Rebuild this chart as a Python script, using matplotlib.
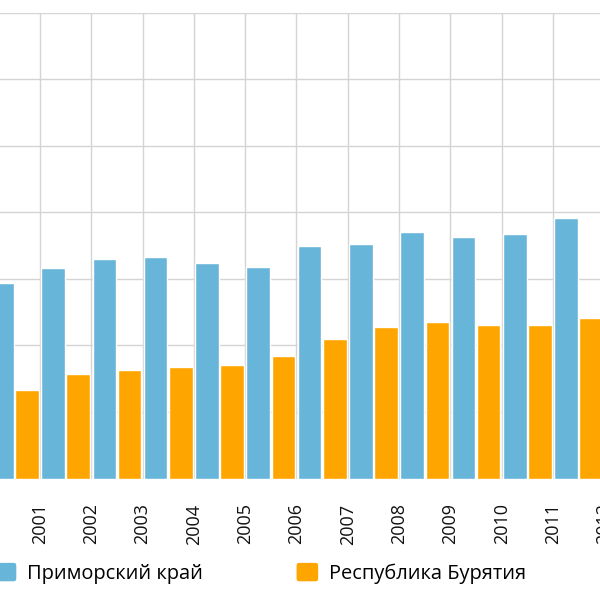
import numpy as np
import matplotlib
matplotlib.use("Agg")
import matplotlib.pyplot as plt
from matplotlib.patches import FancyBboxPatch
from matplotlib.legend_handler import HandlerPatch

# данные (читались с картинки)
years = ['2000', '2001', '2002', '2003', '2004', '2005', '2006',
         '2007', '2008', '2009', '2010', '2011', '2012']
primorsky = [29.3, 31.6, 33.0, 33.2, 32.3, 31.8, 34.9, 35.2, 37.0, 36.3, 36.8, 39.2]
buryatia = [13.3, 15.7, 16.3, 16.8, 17.1, 18.4, 20.9, 22.7, 23.5, 23.0, 23.0, 24.1]
series_names = ['Приморский край', 'Республика Бурятия']

plt.rcParams['font.family'] = ['Open Sans', 'DejaVu Sans']


def rounded_square(legend, orig_handle, xdescent, ydescent, width, height, fontsize):
    """квадратик легенды со скруглёнными углами"""
    return FancyBboxPatch((-xdescent, -ydescent), width, height,
                          boxstyle='round,pad=0,rounding_size=2.5')


fig = plt.figure(figsize=(6, 6), dpi=100)
# оси шире картинки: слева и справа график обрезан
ax = fig.add_axes([-11.3 / 600, 121.5 / 600, 615.6 / 600, 466 / 600])

idx = np.arange(len(primorsky))
w = 0.46
b1 = ax.bar(idx + 0.255, primorsky, w, color='#68b5da', edgecolor='white',
            linewidth=1, zorder=3)
b2 = ax.bar(idx + 0.745, buryatia, w, color='#ffa500', edgecolor='white',
            linewidth=1, zorder=3)

ax.set_xlim(0, 12)
ax.set_ylim(0, 70)
ax.set_xticks(np.arange(len(years)))
ax.set_xticklabels(years, rotation=90, fontsize=13, color='#111111')
ax.set_yticks(np.arange(0, 71, 10))
ax.tick_params(axis='x', length=0, pad=18)
ax.tick_params(axis='y', length=0, labelleft=False)
ax.grid(True, color='#d4d4d4', linewidth=1, zorder=0)
for s in ax.spines.values():
    s.set_visible(False)

h1 = b1.patches[0]
h2 = b2.patches[0]
fig.legend([h1, h2], series_names, loc='center left', ncol=2, frameon=False,
           bbox_to_anchor=(-6 / 600, 27 / 600), fontsize=14.4,
           handlelength=1.15, handleheight=1.15, handletextpad=0.5,
           columnspacing=4.65, borderpad=0, borderaxespad=0,
           handler_map={h1: HandlerPatch(patch_func=rounded_square),
                        h2: HandlerPatch(patch_func=rounded_square)})

fig.savefig('out.png', dpi=100)
